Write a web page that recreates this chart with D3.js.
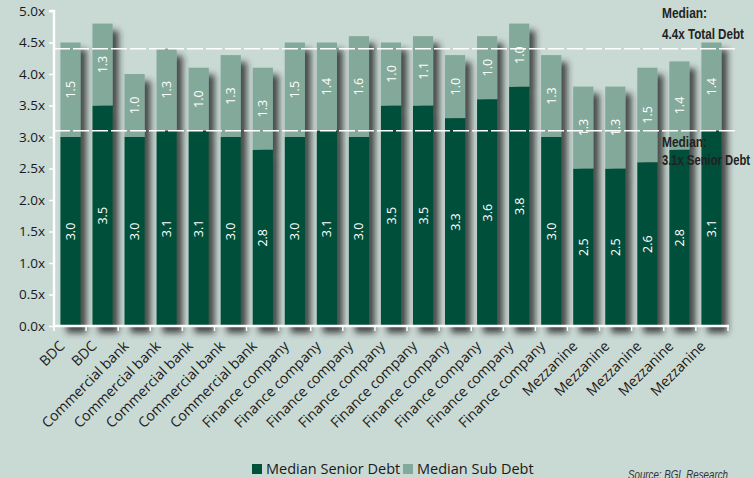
<!DOCTYPE html>
<html><head><meta charset="utf-8">
<script src="https://cdn.jsdelivr.net/npm/d3@7/dist/d3.min.js"></script>
<style>
html,body{margin:0;padding:0;background:#c9d9d3;}
svg{display:block;}
</style></head>
<body>
<script>
const categories = ["BDC","BDC","Commercial bank","Commercial bank","Commercial bank","Commercial bank","Commercial bank",
  "Finance company","Finance company","Finance company","Finance company","Finance company","Finance company","Finance company","Finance company","Finance company",
  "Mezzanine","Mezzanine","Mezzanine","Mezzanine","Mezzanine"];
const seniorDebt = [3.0,3.5,3.0,3.1,3.1,3.0,2.8,3.0,3.1,3.0,3.5,3.5,3.3,3.6,3.8,3.0,2.5,2.5,2.6,2.8,3.1];
const subDebt    = [1.5,1.3,1.0,1.3,1.0,1.3,1.3,1.5,1.4,1.6,1.0,1.1,1.0,1.0,1.0,1.3,1.3,1.3,1.5,1.4,1.4];
const seriesNames = ["Median Senior Debt","Median Sub Debt"];
const yTicks = [0,0.5,1,1.5,2,2.5,3,3.5,4,4.5,5];
const medianTotal = 4.4, medianSenior = 3.1;

const W=754,H=478;
const colors = ["#00503a","#82a99a"];
const svg = d3.select("body").append("svg").attr("width",W).attr("height",H);
svg.append("rect").attr("width",W).attr("height",H).attr("fill","#c9d9d3");

const defs = svg.append("defs");
const f = defs.append("filter").attr("id","sh").attr("x","-50%").attr("y","-10%").attr("width","250%").attr("height","130%");
f.append("feDropShadow").attr("dx",6).attr("dy",7).attr("stdDeviation",3.2).attr("flood-color","#262626").attr("flood-opacity",0.8);

const x = d3.scaleBand().domain(d3.range(categories.length)).range([54,728]).paddingInner(0.37).paddingOuter(0.2);
const y = d3.scaleLinear().domain([0,5]).range([326,11]);

// bars
const bars = svg.append("g").selectAll("g").data(categories).join("g").attr("filter","url(#sh)");
bars.append("rect").attr("x",(d,i)=>x(i)).attr("width",x.bandwidth())
  .attr("y",(d,i)=>y(seniorDebt[i])).attr("height",(d,i)=>y(0)-y(seniorDebt[i])).attr("fill",colors[0]);
bars.append("rect").attr("x",(d,i)=>x(i)).attr("width",x.bandwidth())
  .attr("y",(d,i)=>y(seniorDebt[i]+subDebt[i])).attr("height",(d,i)=>y(seniorDebt[i])-y(seniorDebt[i]+subDebt[i])).attr("fill",colors[1]);

// value labels
const lab = svg.append("g").attr("font-family","'Open Sans','Noto Sans',sans-serif").attr("font-size",12.5).attr("fill","#fff").attr("text-anchor","middle");
categories.forEach((d,i)=>{
  const cx = x(i)+x.bandwidth()/2;
  const y1 = (y(0)+y(seniorDebt[i]))/2;
  lab.append("text").attr("transform",`translate(${cx+4.5},${y1}) rotate(-90)`).text(seniorDebt[i].toFixed(1));
  const y2 = (y(seniorDebt[i])+y(seniorDebt[i]+subDebt[i]))/2;
  lab.append("text").attr("transform",`translate(${cx+4.5},${y2}) rotate(-90)`).text(subDebt[i].toFixed(1));
});

// axes
const yAxis = svg.append("g").attr("transform","translate(54,0)")
  .call(d3.axisLeft(y).tickValues(yTicks).tickSize(5).tickFormat(d=>d3.format(".1f")(d)+"x"));
yAxis.select(".domain").attr("stroke","#fff").attr("stroke-width",2.5).attr("d","M-5,11H0V327");
yAxis.selectAll(".tick line").attr("stroke","#fff").attr("stroke-width",1.5);
yAxis.selectAll(".tick text").attr("fill","#1a1a1a").attr("font-size",13.5).attr("font-family","'Open Sans','Noto Sans',sans-serif").attr("x",-9);

const xAxis = svg.append("g").attr("transform","translate(0,326)");
xAxis.append("line").attr("x1",53).attr("x2",729).attr("stroke","#fff").attr("stroke-width",2.5);
const bounds = d3.range(categories.length+1).map(i=>54+i*(674/categories.length));
xAxis.selectAll(".tk").data(bounds).join("line").attr("x1",d=>d).attr("x2",d=>d).attr("y1",0).attr("y2",5).attr("stroke","#fff").attr("stroke-width",1.5);
xAxis.selectAll(".xl").data(categories).join("text")
  .attr("transform",(d,i)=>`translate(${x(i)+x.bandwidth()/2-5},21) rotate(-45)`)
  .attr("text-anchor","end").attr("font-size",14.2).attr("fill","#1a1a1a")
  .attr("font-family","'Open Sans','Noto Sans',sans-serif").text(d=>d);

// median lines
[medianTotal, medianSenior].forEach(m=>{
  svg.append("line").attr("x1",54).attr("x2",738).attr("y1",y(m)).attr("y2",y(m))
    .attr("stroke","#fff").attr("stroke-width",1.6).attr("stroke-dasharray","16,3");
});
const ann = svg.append("g").attr("font-family","'Liberation Sans','DejaVu Sans',sans-serif")
  .attr("font-weight","bold").attr("font-size",14).attr("fill","#222");
const annT = [
  ["Median:", y(medianTotal)-31, 45],
  ["4.4x Total Debt", y(medianTotal)-10, 82],
  ["Median:", y(medianSenior)+16, 45],
  ["3.1x Senior Debt", y(medianSenior)+34, 88]
];
annT.forEach(a=>ann.append("text").attr("x",662).attr("y",a[1]).attr("textLength",a[2]).attr("lengthAdjust","spacingAndGlyphs").text(a[0]));

// legend
const leg = svg.append("g").attr("font-family","'Open Sans','Noto Sans',sans-serif").attr("font-size",14.5).attr("fill","#1a1a1a");
const lx = [252, 403];
seriesNames.forEach((s,i)=>{
  leg.append("rect").attr("x",lx[i]).attr("y",464).attr("width",10).attr("height",10).attr("fill",colors[i]);
  leg.append("text").attr("x",lx[i]+14).attr("y",474).text(s);
});
svg.append("text").attr("x",728).attr("y",479).attr("text-anchor","end").attr("font-style","italic")
  .attr("font-family","'Liberation Sans','DejaVu Sans',sans-serif").attr("font-size",12).attr("fill","#333")
  .attr("textLength",100).attr("lengthAdjust","spacingAndGlyphs").text("Source: BGL Research");
</script>
</body></html>
